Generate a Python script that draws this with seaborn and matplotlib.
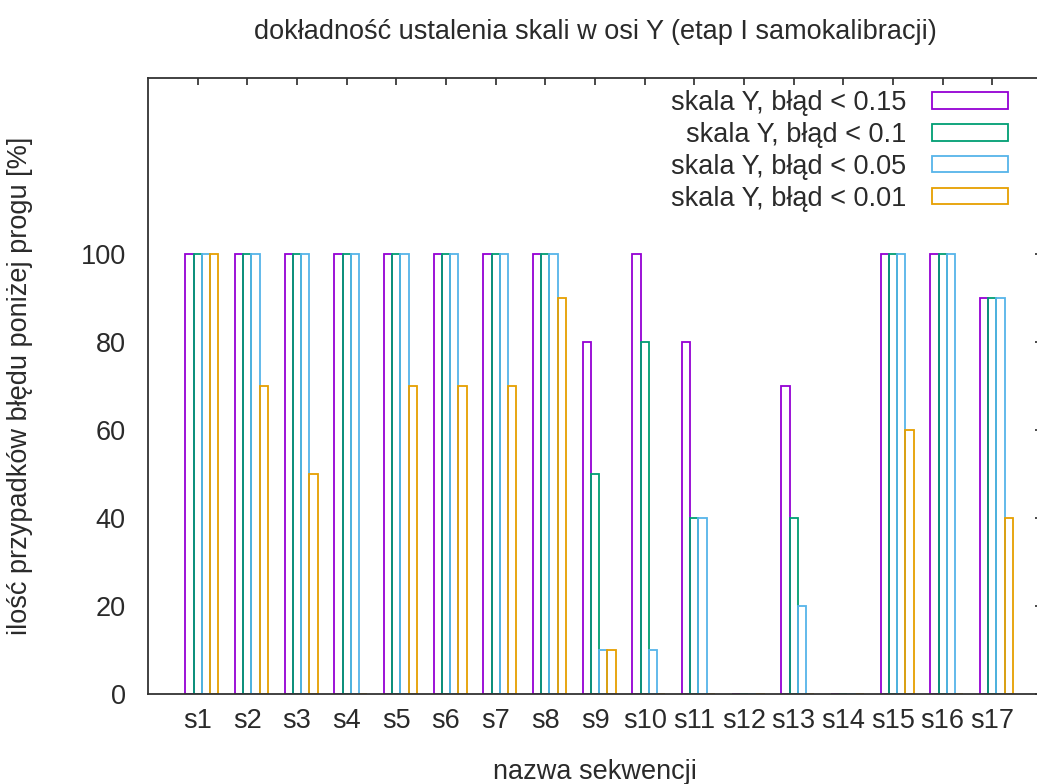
import numpy as np
import pandas as pd
import matplotlib
matplotlib.use("Agg")
import matplotlib.pyplot as plt
import seaborn as sns

# ---- data ----
sequences = [f"s{i}" for i in range(1, 18)]
err_015 = [100, 100, 100, 100, 100, 100, 100, 100, 80, 100, 80, 0, 70, 0, 100, 100, 90]
err_010 = [100, 100, 100, 100, 100, 100, 100, 100, 50, 80, 40, 0, 40, 0, 100, 100, 90]
err_005 = [100, 100, 100, 100, 100, 100, 100, 100, 10, 10, 40, 0, 20, 0, 100, 100, 90]
err_001 = [100, 70, 50, 0, 70, 70, 70, 90, 10, 0, 0, 0, 0, 0, 60, 0, 40]
series_labels = ["skala Y, błąd < 0.15", "skala Y, błąd < 0.1",
                 "skala Y, błąd < 0.05", "skala Y, błąd < 0.01"]
colors = ["#9400d3", "#009e73", "#56b4e9", "#e69f00"]
yticks = [0, 20, 40, 60, 80, 100]

df = pd.concat([
    pd.DataFrame({"seq": sequences, "val": vals, "series": lab})
    for vals, lab in zip([err_015, err_010, err_005, err_001], series_labels)
], ignore_index=True)

sns.set_style("white")
plt.rcParams["font.family"] = ["Liberation Sans", "DejaVu Sans"]
FS = 19.5
TXT = "#2a2a2a"

fig = plt.figure(figsize=(10.37, 7.84), dpi=100)
W, H = 1037, 784
ax = fig.add_axes([148 / W, (H - 694) / H, 894 / W, 616 / H])

n_series = len(series_labels)
group_w = n_series / (n_series + 2)
bw = group_w / n_series

sns.barplot(data=df, x="seq", y="val", hue="series", order=sequences,
            hue_order=series_labels, palette=colors, fill=False,
            width=group_w, gap=0, linewidth=1.3, ax=ax, legend=True,
            err_kws={"linewidth": 0})

n = len(sequences)
ax.set_xticks(np.arange(n) - bw / 2, labels=sequences)
ax.set_xlim(-1 - bw / 2, n - bw / 2)
ax.set_ylim(0, 140)
ax.set_yticks(yticks)
ax.tick_params(axis="both", direction="in", length=5, width=1.2,
               top=True, right=True, labelsize=FS, colors=TXT)
ax.tick_params(axis="x", pad=10)
ax.tick_params(axis="y", pad=16)
for s in ax.spines.values():
    s.set_visible(True)
    s.set_color("#333333")
    s.set_linewidth(1.3)

ax.set_xlabel("nazwa sekwencji", fontsize=FS, labelpad=18, color=TXT)
ax.set_ylabel("ilość przypadków błędu poniżej progu [%]", fontsize=FS,
              labelpad=34, color=TXT)
ax.set_title("dokładność ustalenia skali w osi Y (etap I samokalibracji)",
             fontsize=FS, pad=28, color=TXT)

handles, labels = ax.get_legend_handles_labels()
ax.legend(handles, labels, loc="upper right",
          bbox_to_anchor=((1008 - 148) / 894, (694 - 90) / 616),
          frameon=False, markerfirst=False, fontsize=FS,
          handlelength=2.8, handleheight=0.55, handletextpad=0.95,
          labelspacing=0.22, borderpad=0, borderaxespad=0, labelcolor=TXT)

fig.savefig("out.png", dpi=100)
